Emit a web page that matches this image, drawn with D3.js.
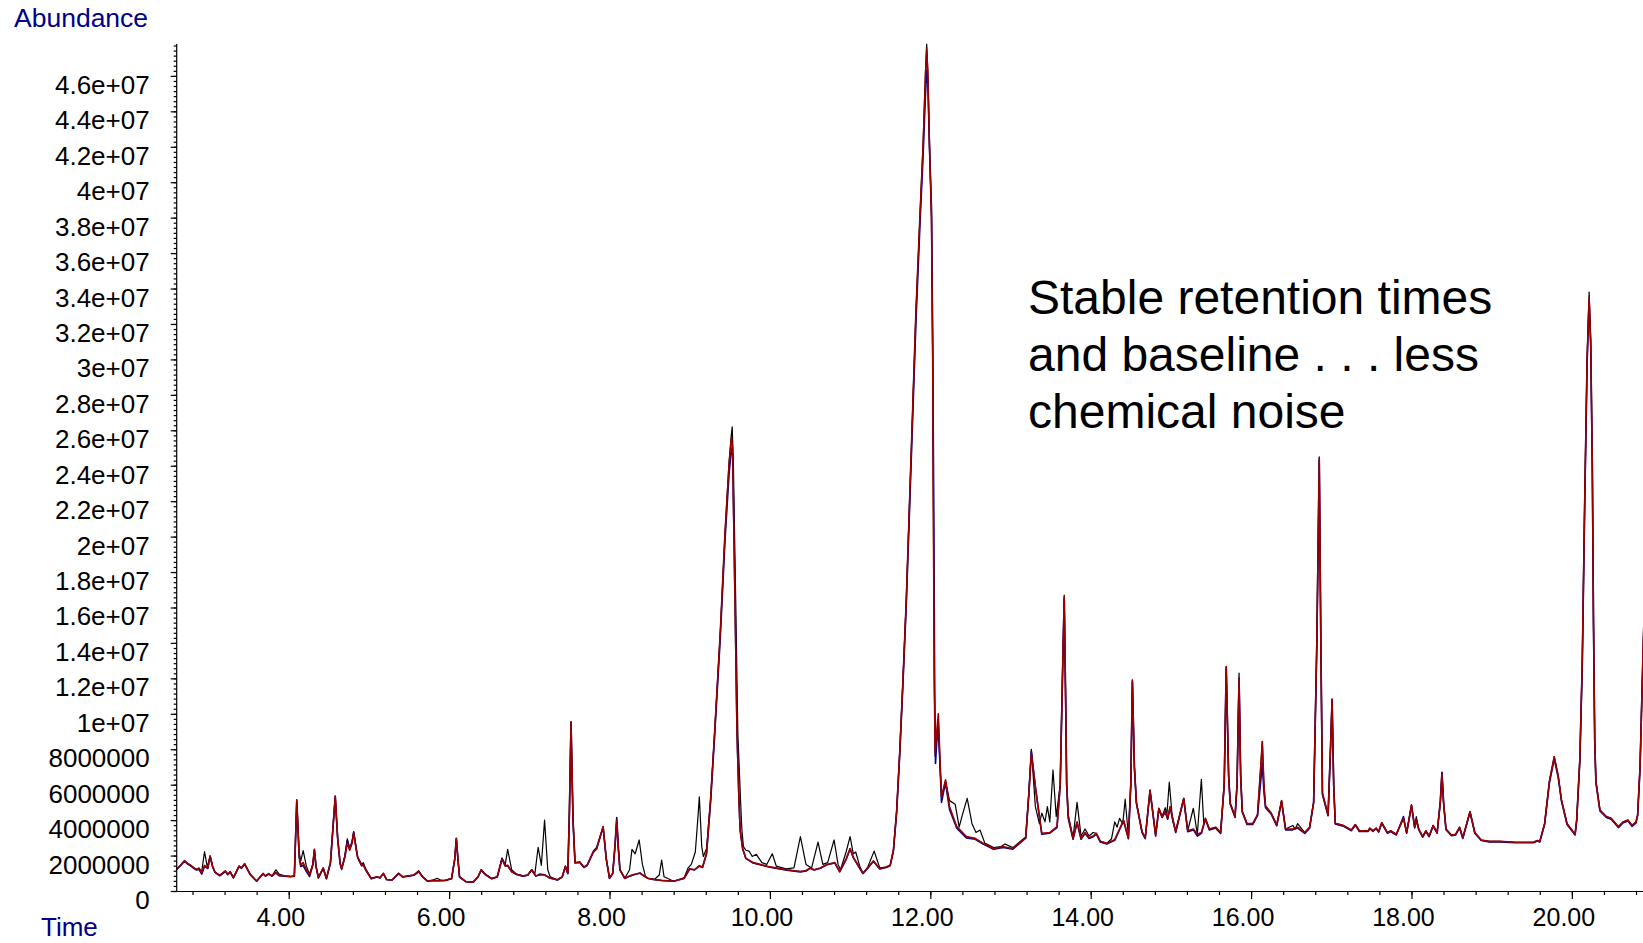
<!DOCTYPE html>
<html>
<head>
<meta charset="utf-8">
<script src="https://cdn.jsdelivr.net/npm/d3@7"></script>
<style>
  html, body { margin: 0; padding: 0; background: #ffffff; overflow: hidden; }
  svg { display: block; font-family: "Liberation Sans", Arial, sans-serif; }
</style>
</head>
<body>
<svg id="chart" width="1643" height="943"></svg>
<script>
// Total ion chromatograms: [retention time (min), abundance (millions)]
const redTrace = [
  [2.60,1.22],[2.65,1.45],[2.70,1.71],[2.74,1.55],[2.77,1.47],[2.82,1.30],[2.85,1.22],[2.88,1.27],[2.915,1.03],[2.95,1.45],
  [2.99,1.30],[3.02,1.98],[3.05,1.40],[3.08,1.07],[3.14,0.88],[3.21,1.13],[3.24,0.94],[3.27,1.09],[3.31,0.75],[3.38,1.41],
  [3.41,1.30],[3.45,1.54],[3.52,0.94],[3.60,0.56],[3.68,0.99],[3.71,0.85],[3.75,0.98],[3.79,0.85],[3.84,1.05],[3.88,0.88],
  [3.95,0.85],[4.02,0.82],[4.07,0.85],[4.10,5.15],[4.13,2.00],[4.15,1.47],[4.18,1.60],[4.22,1.20],[4.26,0.90],[4.30,1.50],
  [4.32,2.35],[4.34,1.40],[4.37,0.75],[4.43,1.30],[4.47,0.70],[4.52,1.60],[4.555,3.80],[4.58,5.36],[4.61,3.00],[4.64,1.60],
  [4.66,1.26],[4.70,1.90],[4.73,2.70],[4.76,2.30],[4.79,2.70],[4.81,3.29],[4.84,2.40],[4.86,1.90],[4.91,1.45],[4.93,1.50],
  [4.96,1.20],[5.03,0.70],[5.10,0.80],[5.14,0.75],[5.18,1.00],[5.22,0.65],[5.29,0.63],[5.37,1.00],[5.42,0.80],[5.49,0.85],
  [5.56,0.90],[5.62,1.10],[5.67,0.80],[5.73,0.56],[5.80,0.60],[5.87,0.58],[5.95,0.60],[6.03,0.70],[6.07,1.80],[6.09,2.97],
  [6.11,1.80],[6.13,0.80],[6.21,0.53],[6.30,0.50],[6.36,0.80],[6.40,1.20],[6.45,0.95],[6.53,0.70],[6.60,0.80],[6.66,1.80],
  [6.70,1.40],[6.73,1.45],[6.78,1.10],[6.84,0.95],[6.92,0.85],[6.98,0.90],[7.03,1.20],[7.08,0.85],[7.13,0.90],[7.19,0.90],
  [7.25,0.75],[7.35,0.63],[7.41,0.80],[7.45,1.40],[7.48,1.00],[7.50,4.50],[7.52,9.55],[7.545,4.00],[7.57,1.60],[7.63,1.60],
  [7.68,1.35],[7.72,1.45],[7.80,2.20],[7.84,2.38],[7.92,3.63],[7.96,1.80],[8.00,0.72],[8.04,1.00],[8.07,2.60],[8.09,4.00],
  [8.11,2.40],[8.13,1.20],[8.19,0.72],[8.25,0.85],[8.32,0.95],[8.38,1.00],[8.43,0.85],[8.48,0.72],[8.56,0.65],[8.65,0.60],
  [8.80,0.55],[8.93,0.72],[9.00,1.26],[9.06,1.20],[9.12,1.43],[9.16,1.35],[9.21,2.13],[9.26,5.14],[9.31,8.90],[9.38,14.5],
  [9.44,20.2],[9.49,24.0],[9.52,25.6],[9.535,25.0],[9.565,16.4],[9.59,8.90],[9.615,5.00],[9.63,3.40],[9.66,2.40],[9.70,1.85],
  [9.79,1.60],[10.00,1.36],[10.21,1.20],[10.38,1.10],[10.45,1.15],[10.50,1.30],[10.55,1.20],[10.63,1.30],[10.71,1.50],[10.81,1.60],
  [10.87,1.10],[10.95,1.80],[11.00,2.40],[11.04,1.90],[11.08,1.60],[11.16,1.00],[11.22,1.30],[11.29,1.70],[11.37,1.26],[11.45,1.35],
  [11.50,1.45],[11.54,2.30],[11.58,4.50],[11.62,7.96],[11.66,12.0],[11.70,16.4],[11.76,24.5],[11.82,32.6],[11.87,38.0],[11.91,42.0],
  [11.94,46.0],[11.955,47.5],[11.97,46.0],[11.99,42.0],[12.015,38.0],[12.03,30.0],[12.04,20.0],[12.05,12.0],[12.06,7.80],[12.08,9.00],
  [12.10,10.0],[12.12,7.50],[12.14,5.30],[12.17,5.90],[12.19,6.27],[12.24,4.76],[12.33,3.63],[12.45,3.07],[12.56,2.97],[12.66,2.69],
  [12.79,2.40],[12.91,2.50],[13.03,2.40],[13.12,2.75],[13.19,3.00],[13.23,5.50],[13.26,7.77],[13.31,5.90],[13.39,3.26],[13.49,3.30],
  [13.58,3.63],[13.62,6.00],[13.65,12.5],[13.67,16.6],[13.69,10.0],[13.70,6.10],[13.72,4.20],[13.78,2.97],[13.83,3.90],[13.88,2.97],
  [13.93,3.30],[13.98,3.00],[14.03,3.10],[14.07,3.26],[14.12,2.80],[14.20,2.69],[14.30,2.90],[14.35,3.40],[14.41,4.00],[14.47,3.00],
  [14.50,6.00],[14.52,11.9],[14.545,7.00],[14.57,5.00],[14.64,3.35],[14.68,3.00],[14.74,5.66],[14.81,3.16],[14.85,4.67],[14.89,4.20],
  [14.93,4.50],[14.96,4.10],[14.99,4.76],[15.06,3.35],[15.16,5.23],[15.21,3.40],[15.28,3.50],[15.33,3.20],[15.38,3.30],[15.43,4.10],
  [15.48,3.50],[15.56,3.60],[15.62,3.30],[15.665,6.00],[15.69,12.66],[15.72,6.50],[15.74,4.95],[15.80,4.20],[15.825,6.00],[15.85,12.0],
  [15.87,6.50],[15.89,4.50],[15.95,3.80],[16.02,3.80],[16.08,4.30],[16.12,7.00],[16.14,8.43],[16.16,6.00],[16.18,4.80],[16.25,4.40],
  [16.32,3.73],[16.38,5.10],[16.43,3.50],[16.52,3.50],[16.58,3.60],[16.67,3.30],[16.73,3.60],[16.78,5.00],[16.82,14.0],[16.85,24.45],
  [16.87,14.0],[16.89,5.50],[16.96,4.30],[16.99,8.00],[17.01,10.82],[17.03,6.00],[17.05,3.82],[17.15,3.70],[17.25,3.44],[17.30,3.75],
  [17.35,3.40],[17.46,3.40],[17.48,3.55],[17.52,3.40],[17.56,3.55],[17.59,3.35],[17.63,3.86],[17.70,3.30],[17.74,3.40],[17.81,3.20],
  [17.90,4.10],[17.94,3.30],[18.00,4.86],[18.04,3.60],[18.06,4.00],[18.09,3.50],[18.14,3.07],[18.18,3.40],[18.22,3.10],[18.27,3.70],
  [18.32,3.30],[18.36,5.00],[18.38,6.64],[18.40,5.00],[18.43,3.50],[18.50,3.15],[18.55,3.20],[18.60,3.60],[18.64,3.00],[18.70,4.00],
  [18.73,4.48],[18.79,3.30],[18.87,2.88],[18.97,2.80],[19.10,2.80],[19.30,2.75],[19.52,2.75],[19.57,2.85],[19.60,2.80],[19.66,3.80],
  [19.72,6.20],[19.78,7.58],[19.83,6.50],[19.87,5.14],[19.94,3.80],[20.04,3.20],[20.06,4.00],[20.10,7.50],[20.13,13.0],[20.16,22.0],
  [20.19,30.0],[20.215,33.5],[20.235,31.0],[20.255,24.0],[20.27,15.0],[20.285,8.50],[20.30,6.20],[20.35,4.57],[20.43,4.20],[20.49,4.10],
  [20.58,3.63],[20.64,3.90],[20.70,4.00],[20.75,3.70],[20.80,3.90],[20.82,4.30],[20.85,7.00],[20.887,13.4],[20.90,15.5]
];

const blueTrace = [
  [2.60,1.20],[2.65,1.43],[2.70,1.68],[2.74,1.52],[2.77,1.44],[2.82,1.27],[2.85,1.18],[2.88,1.22],[2.915,0.95],[2.95,1.40],
  [2.99,1.27],[3.02,1.95],[3.05,1.38],[3.08,1.05],[3.14,0.86],[3.21,1.10],[3.24,0.92],[3.27,1.07],[3.31,0.74],[3.38,1.38],
  [3.41,1.28],[3.45,1.50],[3.52,0.92],[3.60,0.55],[3.68,0.97],[3.71,0.84],[3.75,0.96],[3.79,0.84],[3.84,1.02],[3.88,0.86],
  [3.95,0.84],[4.02,0.80],[4.07,0.84],[4.10,5.05],[4.13,1.90],[4.15,1.38],[4.18,1.45],[4.22,1.10],[4.26,0.82],[4.30,1.45],
  [4.32,2.30],[4.34,1.38],[4.37,0.74],[4.43,1.28],[4.47,0.69],[4.52,1.58],[4.555,3.75],[4.58,5.30],[4.61,2.95],[4.64,1.55],
  [4.66,1.22],[4.70,1.95],[4.73,2.85],[4.76,2.35],[4.79,2.75],[4.81,3.32],[4.84,2.40],[4.86,1.88],[4.91,1.42],[4.93,1.48],
  [4.96,1.18],[5.03,0.69],[5.10,0.79],[5.14,0.74],[5.18,0.98],[5.22,0.64],[5.29,0.62],[5.37,0.98],[5.42,0.79],[5.49,0.84],
  [5.56,0.89],[5.62,1.08],[5.67,0.79],[5.73,0.55],[5.80,0.59],[5.87,0.58],[5.95,0.59],[6.03,0.69],[6.07,1.78],[6.09,2.95],
  [6.11,1.78],[6.13,0.79],[6.21,0.52],[6.30,0.50],[6.36,0.79],[6.40,1.18],[6.45,0.93],[6.53,0.69],[6.60,0.79],[6.66,1.85],
  [6.70,1.42],[6.73,1.44],[6.78,1.08],[6.84,0.93],[6.92,0.84],[6.98,0.89],[7.03,1.18],[7.08,0.84],[7.13,0.95],[7.19,0.92],
  [7.25,0.74],[7.35,0.62],[7.41,0.79],[7.45,1.38],[7.48,0.98],[7.50,4.45],[7.52,9.50],[7.545,3.95],[7.57,1.58],[7.63,1.62],
  [7.68,1.33],[7.72,1.43],[7.80,2.25],[7.84,2.45],[7.92,3.60],[7.96,1.78],[8.00,0.71],[8.04,0.98],[8.07,2.70],[8.09,4.15],
  [8.11,2.45],[8.13,1.18],[8.19,0.71],[8.25,0.84],[8.32,0.94],[8.38,1.02],[8.43,0.84],[8.48,0.71],[8.56,0.64],[8.65,0.59],
  [8.80,0.55],[8.93,0.71],[9.00,1.24],[9.06,1.19],[9.12,1.40],[9.16,1.33],[9.21,2.10],[9.26,5.00],[9.31,8.70],[9.38,14.2],
  [9.44,19.8],[9.49,23.5],[9.52,25.0],[9.535,24.6],[9.565,16.4],[9.59,8.90],[9.615,5.00],[9.63,3.40],[9.66,2.38],[9.70,1.84],
  [9.79,1.58],[10.00,1.34],[10.21,1.18],[10.38,1.08],[10.45,1.13],[10.50,1.28],[10.55,1.18],[10.63,1.28],[10.71,1.48],[10.81,1.58],
  [10.87,1.08],[10.95,1.78],[11.00,2.38],[11.04,1.88],[11.08,1.58],[11.16,0.98],[11.22,1.28],[11.29,1.68],[11.37,1.24],[11.45,1.33],
  [11.50,1.43],[11.54,2.25],[11.58,4.40],[11.62,7.80],[11.66,11.8],[11.70,16.1],[11.76,24.0],[11.82,32.0],[11.87,37.5],[11.91,41.5],
  [11.94,45.0],[11.955,46.3],[11.97,45.5],[11.99,42.0],[12.015,38.5],[12.03,31.0],[12.045,20.0],[12.055,11.0],[12.065,7.20],[12.08,8.40],
  [12.10,9.40],[12.12,7.20],[12.14,5.00],[12.17,5.70],[12.19,6.10],[12.24,4.60],[12.33,3.55],[12.45,3.00],[12.56,2.92],[12.66,2.65],
  [12.79,2.36],[12.91,2.46],[13.03,2.36],[13.12,2.72],[13.19,2.98],[13.23,5.60],[13.26,7.90],[13.31,5.85],[13.39,3.20],[13.49,3.26],
  [13.58,3.58],[13.62,6.00],[13.65,12.4],[13.67,16.5],[13.69,10.0],[13.70,6.00],[13.72,4.10],[13.78,2.92],[13.83,3.85],[13.88,2.92],
  [13.93,3.25],[13.98,2.96],[14.03,3.06],[14.07,3.22],[14.12,2.76],[14.20,2.65],[14.30,2.86],[14.35,3.36],[14.41,3.95],[14.47,2.95],
  [14.50,6.00],[14.52,11.8],[14.545,7.00],[14.57,4.95],[14.64,3.30],[14.68,2.95],[14.74,5.70],[14.81,3.10],[14.85,4.62],[14.89,4.15],
  [14.93,4.45],[14.96,4.05],[14.99,4.72],[15.06,3.30],[15.16,5.20],[15.21,3.35],[15.28,3.45],[15.33,3.10],[15.38,3.25],[15.43,4.05],
  [15.48,3.45],[15.56,3.55],[15.62,3.25],[15.665,6.00],[15.69,12.6],[15.72,6.50],[15.74,4.90],[15.80,4.15],[15.825,6.00],[15.85,12.0],
  [15.87,6.50],[15.89,4.45],[15.95,3.75],[16.02,3.75],[16.08,4.25],[16.12,6.20],[16.14,7.20],[16.16,5.60],[16.18,4.70],[16.25,4.35],
  [16.32,3.68],[16.38,5.05],[16.43,3.45],[16.52,3.45],[16.58,3.55],[16.67,3.25],[16.73,3.55],[16.78,5.00],[16.82,14.0],[16.85,24.3],
  [16.87,14.0],[16.89,5.45],[16.96,4.25],[16.99,8.00],[17.01,10.75],[17.03,6.00],[17.05,3.78],[17.15,3.66],[17.25,3.40],[17.30,3.72],
  [17.35,3.36],[17.46,3.36],[17.48,3.52],[17.52,3.36],[17.56,3.52],[17.59,3.32],[17.63,3.82],[17.70,3.26],[17.74,3.36],[17.81,3.16],
  [17.90,4.20],[17.94,3.26],[18.00,4.80],[18.04,3.56],[18.06,4.05],[18.09,3.46],[18.14,3.04],[18.18,3.36],[18.22,3.06],[18.27,3.66],
  [18.32,3.26],[18.36,5.10],[18.38,6.70],[18.40,5.00],[18.43,3.46],[18.50,3.12],[18.55,3.16],[18.60,3.56],[18.64,2.96],[18.70,3.95],
  [18.73,4.44],[18.79,3.26],[18.87,2.85],[18.97,2.77],[19.10,2.77],[19.30,2.72],[19.52,2.72],[19.57,2.82],[19.60,2.77],[19.66,3.75],
  [19.72,6.10],[19.78,7.45],[19.83,6.40],[19.87,5.08],[19.94,3.75],[20.04,3.16],[20.06,3.95],[20.10,7.40],[20.13,12.8],[20.16,21.8],
  [20.19,29.8],[20.215,33.3],[20.235,30.8],[20.255,24.0],[20.27,15.0],[20.285,8.50],[20.30,6.10],[20.35,4.52],[20.43,4.15],[20.49,4.05],
  [20.58,3.58],[20.64,3.85],[20.70,3.95],[20.75,3.65],[20.80,3.85],[20.82,4.25],[20.85,6.90],[20.887,13.3],[20.90,15.4]
];

const blackTrace = [
  [2.60,1.22],[2.65,1.45],[2.70,1.71],[2.74,1.55],[2.77,1.47],[2.82,1.30],[2.85,1.22],[2.88,1.30],[2.915,1.10],[2.95,2.22],
  [2.985,1.35],[3.02,1.98],[3.05,1.40],[3.08,1.07],[3.14,0.88],[3.21,1.13],[3.24,0.94],[3.27,1.09],[3.31,0.75],[3.38,1.41],
  [3.41,1.30],[3.45,1.54],[3.52,0.94],[3.60,0.56],[3.68,0.99],[3.71,0.85],[3.75,0.98],[3.79,0.85],[3.84,1.20],[3.88,0.95],
  [3.95,0.85],[4.02,0.82],[4.07,0.85],[4.10,5.15],[4.13,2.20],[4.15,1.70],[4.18,2.28],[4.22,1.40],[4.26,0.95],[4.30,1.50],
  [4.32,2.35],[4.34,1.40],[4.37,0.75],[4.43,1.30],[4.47,0.70],[4.52,1.60],[4.555,3.80],[4.58,5.36],[4.61,3.00],[4.64,1.60],
  [4.66,1.26],[4.70,2.00],[4.73,2.95],[4.76,2.40],[4.79,2.80],[4.81,3.35],[4.84,2.45],[4.86,1.90],[4.91,1.50],[4.93,1.60],
  [4.96,1.25],[5.03,0.70],[5.10,0.80],[5.14,0.75],[5.18,1.00],[5.22,0.65],[5.29,0.63],[5.37,1.00],[5.42,0.80],[5.49,0.85],
  [5.56,0.90],[5.62,1.15],[5.67,0.80],[5.73,0.56],[5.80,0.62],[5.85,0.72],[5.90,0.60],[5.95,0.60],[6.03,0.70],[6.07,1.80],
  [6.09,2.97],[6.11,1.80],[6.13,0.80],[6.21,0.53],[6.30,0.50],[6.36,0.80],[6.40,1.20],[6.45,0.95],[6.53,0.70],[6.60,0.80],
  [6.66,1.85],[6.70,1.50],[6.73,2.35],[6.78,1.20],[6.84,0.95],[6.92,0.85],[6.98,0.90],[7.03,1.20],[7.07,1.00],[7.11,2.47],
  [7.15,1.45],[7.19,4.00],[7.23,1.20],[7.26,0.80],[7.35,0.63],[7.41,0.80],[7.45,1.40],[7.48,1.00],[7.50,4.50],[7.52,9.55],
  [7.545,4.00],[7.57,1.60],[7.63,1.65],[7.68,1.35],[7.72,1.45],[7.80,2.20],[7.84,2.38],[7.92,3.63],[7.96,1.80],[8.00,0.72],
  [8.04,1.00],[8.07,2.60],[8.09,4.00],[8.11,2.40],[8.13,1.20],[8.19,0.72],[8.25,1.20],[8.28,2.35],[8.32,2.10],[8.37,2.88],
  [8.41,1.50],[8.45,0.80],[8.48,0.72],[8.56,0.65],[8.62,0.90],[8.65,1.75],[8.68,0.80],[8.80,0.55],[8.93,0.75],[8.98,1.30],
  [9.02,1.50],[9.07,2.20],[9.10,4.00],[9.12,5.32],[9.15,2.50],[9.17,1.95],[9.21,2.40],[9.26,5.14],[9.31,8.90],[9.38,14.5],
  [9.44,20.2],[9.49,24.2],[9.52,25.8],[9.53,26.2],[9.545,24.0],[9.575,16.0],[9.60,8.90],[9.635,5.00],[9.65,3.50],[9.67,2.50],
  [9.70,2.30],[9.74,2.25],[9.78,1.95],[9.83,2.07],[9.90,1.60],[9.96,1.50],[10.03,2.10],[10.08,1.40],[10.20,1.25],[10.30,1.30],
  [10.38,3.07],[10.45,1.50],[10.52,1.30],[10.60,2.76],[10.66,1.50],[10.72,1.60],[10.80,2.88],[10.85,1.50],[10.88,1.20],[10.95,2.20],
  [11.00,3.07],[11.04,2.10],[11.07,2.20],[11.12,1.40],[11.16,1.00],[11.22,1.35],[11.30,2.25],[11.37,1.30],[11.45,1.35],[11.50,1.45],
  [11.54,2.30],[11.58,4.50],[11.62,7.96],[11.66,12.0],[11.70,16.4],[11.76,24.5],[11.82,32.6],[11.87,38.0],[11.91,42.2],[11.94,46.3],
  [11.955,47.8],[11.97,46.2],[11.99,42.0],[12.015,38.0],[12.03,30.0],[12.04,20.0],[12.05,12.0],[12.06,7.60],[12.08,8.50],[12.10,9.40],
  [12.12,7.20],[12.14,5.30],[12.17,5.80],[12.19,6.20],[12.24,5.10],[12.31,4.90],[12.36,3.60],[12.40,4.30],[12.46,5.23],[12.52,3.80],
  [12.57,3.30],[12.62,3.44],[12.68,2.70],[12.79,2.45],[12.88,2.50],[12.93,2.65],[13.03,2.45],[13.12,2.80],[13.19,3.05],[13.23,5.60],
  [13.26,8.00],[13.31,4.76],[13.36,3.80],[13.39,4.40],[13.43,3.90],[13.46,4.76],[13.49,3.90],[13.53,6.83],[13.57,4.20],[13.62,6.00],
  [13.65,12.6],[13.67,16.7],[13.69,10.0],[13.70,6.20],[13.72,4.30],[13.78,3.00],[13.83,5.00],[13.88,3.10],[13.93,3.50],[13.98,3.10],
  [14.03,3.30],[14.07,3.26],[14.12,2.80],[14.20,2.69],[14.26,2.95],[14.30,3.90],[14.33,3.60],[14.36,4.10],[14.40,3.80],[14.43,5.18],
  [14.47,3.10],[14.50,6.00],[14.52,11.9],[14.545,7.00],[14.57,5.00],[14.64,3.35],[14.68,3.00],[14.74,5.66],[14.81,3.16],[14.85,4.67],
  [14.89,4.20],[14.93,4.70],[14.95,4.30],[14.98,6.14],[15.02,4.00],[15.06,3.40],[15.16,5.23],[15.21,3.40],[15.28,4.67],[15.33,3.20],
  [15.38,6.30],[15.41,3.80],[15.43,4.10],[15.48,3.50],[15.56,3.60],[15.62,3.30],[15.665,6.00],[15.69,12.66],[15.72,6.50],[15.74,4.95],
  [15.80,4.20],[15.825,6.00],[15.85,12.3],[15.87,6.50],[15.89,4.50],[15.95,3.80],[16.02,3.80],[16.08,4.30],[16.12,7.00],[16.14,8.43],
  [16.16,6.00],[16.18,4.80],[16.25,4.40],[16.32,3.73],[16.38,5.10],[16.43,3.50],[16.52,3.70],[16.55,3.50],[16.58,3.80],[16.67,3.30],
  [16.73,3.60],[16.78,5.00],[16.82,14.0],[16.85,24.5],[16.87,14.0],[16.89,5.50],[16.96,4.30],[16.99,8.00],[17.01,10.85],[17.03,6.00],
  [17.05,3.82],[17.15,3.70],[17.25,3.44],[17.30,3.75],[17.35,3.40],[17.46,3.40],[17.48,3.55],[17.52,3.40],[17.56,3.55],[17.59,3.35],
  [17.63,3.86],[17.70,3.30],[17.74,3.40],[17.81,3.20],[17.90,4.10],[17.94,3.30],[18.00,4.86],[18.04,3.60],[18.06,4.20],[18.09,3.50],
  [18.14,3.07],[18.18,3.40],[18.22,3.10],[18.27,3.70],[18.32,3.30],[18.36,5.00],[18.38,6.70],[18.40,5.00],[18.43,3.50],[18.50,3.15],
  [18.55,3.20],[18.60,3.60],[18.64,3.00],[18.70,4.00],[18.73,4.48],[18.79,3.30],[18.87,2.88],[18.97,2.80],[19.10,2.80],[19.30,2.75],
  [19.52,2.75],[19.57,2.85],[19.60,2.80],[19.66,3.80],[19.72,6.20],[19.78,7.58],[19.83,6.50],[19.87,5.14],[19.94,3.80],[20.04,3.20],
  [20.06,4.00],[20.10,7.50],[20.13,13.0],[20.16,22.0],[20.19,30.0],[20.215,33.8],[20.235,31.0],[20.255,24.0],[20.27,15.0],[20.285,8.50],
  [20.30,6.20],[20.35,4.57],[20.43,4.20],[20.49,4.10],[20.58,3.63],[20.64,3.90],[20.70,4.00],[20.75,3.70],[20.80,3.90],[20.82,4.30],
  [20.85,7.00],[20.887,13.4],[20.90,15.5]
];

// Axis ticks
const xTickValues = [4, 6, 8, 10, 12, 14, 16, 18, 20];
const xTickLabels = ["4.00", "6.00", "8.00", "10.00", "12.00", "14.00", "16.00", "18.00", "20.00"];
const yTickValues = [0, 2e6, 4e6, 6e6, 8e6, 1e7, 1.2e7, 1.4e7, 1.6e7, 1.8e7, 2e7, 2.2e7, 2.4e7, 2.6e7,
                     2.8e7, 3e7, 3.2e7, 3.4e7, 3.6e7, 3.8e7, 4e7, 4.2e7, 4.4e7, 4.6e7];
const yTickLabels = ["0", "2000000", "4000000", "6000000", "8000000", "1e+07", "1.2e+07", "1.4e+07",
                     "1.6e+07", "1.8e+07", "2e+07", "2.2e+07", "2.4e+07", "2.6e+07", "2.8e+07", "3e+07",
                     "3.2e+07", "3.4e+07", "3.6e+07", "3.8e+07", "4e+07", "4.2e+07", "4.4e+07", "4.6e+07"];

const noteLines = ["Stable retention times", "and baseline . . . less", "chemical noise"];

const svg = d3.select("#chart");
const plotLeft = 176.7, plotRight = 1643, plotTop = 44, plotBottom = 891;

const x = d3.scaleLinear().domain([2.603, 20.887]).range([plotLeft, plotRight]);
const y = d3.scaleLinear().domain([0, 4.78e7]).range([plotBottom, plotTop]);

svg.append("defs").append("clipPath").attr("id", "plotClip")
  .append("rect").attr("x", plotLeft).attr("y", 0)
  .attr("width", plotRight - plotLeft).attr("height", plotBottom);

// Traces: black underneath, then blue, red on top
const line = d3.line().x(d => x(d[0])).y(d => y(d[1] * 1e6)).curve(d3.curveLinear);
const traces = [
  { data: blackTrace, color: "#000000", width: 1.2 },
  { data: blueTrace, color: "#00008b", width: 1.6 },
  { data: redTrace, color: "#9a0000", width: 1.6 }
];
const g = svg.append("g").attr("clip-path", "url(#plotClip)");
traces.forEach(t => {
  g.append("path").datum(t.data)
    .attr("d", line)
    .attr("fill", "none")
    .attr("stroke", t.color)
    .attr("stroke-width", t.width)
    .attr("stroke-linejoin", "round");
});

// X axis: minor ticks every 0.4 min, labelled majors every 2 min
const xMinor = d3.range(2.8, 20.9, 0.4).map(v => +v.toFixed(2));
svg.append("g").attr("transform", `translate(0,${plotBottom})`)
  .call(d3.axisBottom(x).tickValues(xMinor).tickSize(4).tickSizeOuter(0).tickFormat(""))
  .call(a => a.selectAll("line,path").attr("stroke", "#000").attr("stroke-width", 1.2));
const xAxis = svg.append("g").attr("transform", `translate(0,${plotBottom})`)
  .call(d3.axisBottom(x).tickValues(xTickValues).tickSize(8).tickSizeOuter(0)
    .tickFormat((d, i) => xTickLabels[i]));
xAxis.selectAll("line,path").attr("stroke", "#000").attr("stroke-width", 1.2);
xAxis.selectAll("text")
  .attr("font-size", 25).attr("fill", "#000")
  .attr("dy", null).attr("y", 35).attr("x", -8.5)
  .attr("font-family", "Liberation Sans, Arial, sans-serif");

// Y axis: minor ticks subdivide each 2,000,000 step
const yMinor = d3.range(0, 4.78e7, 2e6 / 7);
svg.append("g").attr("transform", `translate(${plotLeft},0)`)
  .call(d3.axisLeft(y).tickValues(yMinor).tickSize(3).tickSizeOuter(0).tickFormat(""))
  .call(a => a.selectAll("line").attr("stroke", "#000").attr("stroke-width", 1.2))
  .call(a => a.select("path").remove());
const yAxis = svg.append("g").attr("transform", `translate(${plotLeft},0)`)
  .call(d3.axisLeft(y).tickValues(yTickValues).tickSize(6).tickSizeOuter(0)
    .tickFormat((d, i) => yTickLabels[i]));
yAxis.select("path").attr("d", `M0,${plotTop}V${plotBottom}`);
yAxis.selectAll("line,path").attr("stroke", "#000").attr("stroke-width", 1.2);
yAxis.selectAll("text")
  .attr("font-size", 26).attr("fill", "#000")
  .attr("x", -27).attr("dy", null).attr("y", 17.5)
  .attr("font-family", "Liberation Sans, Arial, sans-serif");

// Axis titles
svg.append("text").attr("x", 14).attr("y", 27).attr("font-size", 26.5)
  .attr("fill", "#00008b").text("Abundance");
svg.append("text").attr("x", 41).attr("y", 936).attr("font-size", 26)
  .attr("fill", "#00008b").text("Time");

// Annotation
svg.append("g").selectAll("text").data(noteLines).join("text")
  .attr("x", 1028).attr("y", (d, i) => 314 + i * 57)
  .attr("font-size", 48).attr("fill", "#000")
  .text(d => d);
</script>
</body>
</html>
